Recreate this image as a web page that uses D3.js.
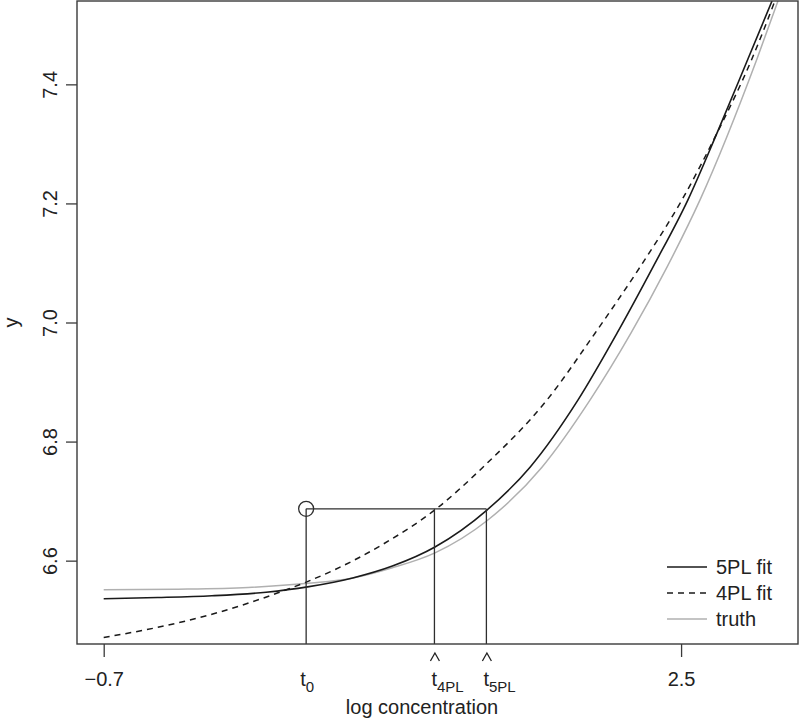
<!DOCTYPE html>
<html><head><meta charset="utf-8">
<script src="https://cdn.jsdelivr.net/npm/d3@7"></script>
<style>
body{margin:0;background:#fff}
svg{display:block}
text{font-family:"Liberation Sans",Arial,Helvetica,sans-serif;fill:#222}
</style>
</head><body>
<svg id="chart" width="800" height="720"></svg>
<script>
// ---- data ----
const fit5X = [-0.7, -0.4, -0.1, 0.2, 0.43, 0.68, 0.9, 1.136, 1.424, 1.663, 1.929, 2.145, 2.344, 2.538, 2.699, 2.871, 3.004];
const fit5Y = [6.536, 6.538, 6.541, 6.547, 6.556, 6.571, 6.591, 6.623, 6.685, 6.757, 6.870, 6.982, 7.093, 7.206, 7.318, 7.443, 7.540];

const fit4X = [-0.7, -0.4, -0.1, 0.266, 0.422, 0.582, 0.85, 1.147, 1.402, 1.757, 2.023, 2.272, 2.505, 2.699, 2.893, 3.02];
const fit4Y = [6.471, 6.488, 6.510, 6.546, 6.564, 6.585, 6.628, 6.688, 6.757, 6.870, 6.982, 7.093, 7.206, 7.318, 7.443, 7.540];

const truthX = [-0.7, -0.3, 0.1, 0.432, 0.682, 0.9, 1.136, 1.424, 1.729, 1.996, 2.222, 2.422, 2.605, 2.921, 3.037];
const truthY = [6.551, 6.552, 6.555, 6.562, 6.571, 6.588, 6.613, 6.667, 6.757, 6.870, 6.982, 7.093, 7.206, 7.443, 7.540];

const xTicks = [-0.7, 2.5];
const yTicks = [6.6, 6.8, 7.0, 7.2, 7.4];

const markNames = ["t0", "t4PL", "t5PL"];
const markX = [0.422, 1.133, 1.421];
const markSub = ["0", "4PL", "5PL"];
const markHat = [false, true, true];
const levelY = 6.687;

const legendLabels = ["5PL fit", "4PL fit", "truth"];

// ---- drawing ----
const svg = d3.select("#chart");
const L = 77, R = 798, T = 1, B = 644;
const x = d3.scaleLinear().domain([-0.848, 3.148]).range([L, R]);
const y = d3.scaleLinear().domain([6.46, 7.54]).range([B, T]);

svg.append("defs").append("clipPath").attr("id", "clip")
  .append("rect").attr("x", L).attr("y", T).attr("width", R - L).attr("height", B - T);

const axisColor = "#3a3a3a";

// y axis
const yAxis = svg.append("g").attr("transform", `translate(${L},0)`)
  .call(d3.axisLeft(y).tickValues(yTicks).tickSize(11).tickFormat(d3.format(".1f")));
yAxis.select(".domain").remove();
yAxis.selectAll(".tick line").attr("stroke", axisColor).attr("stroke-width", 1.3);
yAxis.selectAll(".tick text").remove();
yAxis.selectAll(".tick").append("text")
  .attr("transform", "translate(-20,0) rotate(-90)")
  .attr("text-anchor", "middle")
  .attr("font-size", 20)
  .text(d => d3.format(".1f")(d));

// x axis
const xAxis = svg.append("g").attr("transform", `translate(0,${B})`)
  .call(d3.axisBottom(x).tickValues(xTicks).tickSize(13).tickFormat(d => d3.format(".1f")(d).replace("-", "\u2212")));
xAxis.select(".domain").remove();
xAxis.selectAll(".tick line").attr("stroke", axisColor).attr("stroke-width", 1.3);
xAxis.selectAll(".tick text").attr("font-size", 20).attr("fill", "#222")
  .attr("font-family", '"Liberation Sans",Arial,sans-serif')
  .attr("dy", null).attr("y", 42);

// marker labels (t0, t-hat 4PL, t-hat 5PL)
markX.forEach((v, i) => {
  const px = x(v);
  const g = svg.append("g");
  const startX = px - (markHat[i] ? 3 : 6);
  const t = g.append("text").attr("x", startX).attr("y", B + 42).attr("font-size", 20);
  t.append("tspan").text("t");
  t.append("tspan").attr("dy", 6).attr("font-size", 15).text(markSub[i]);
  if (markHat[i]) {
    const hx = startX + 3.5;
    g.append("path")
      .attr("d", `M${hx - 4.5},${B + 17} L${hx},${B + 9} L${hx + 4.5},${B + 17}`)
      .attr("fill", "none").attr("stroke", "#222").attr("stroke-width", 1.3);
  }
});

// axis titles
svg.append("text").attr("x", 422).attr("y", B + 70).attr("text-anchor", "middle")
  .attr("font-size", 20).text("log concentration");
svg.append("text").attr("transform", `translate(18,${(T + B) / 2}) rotate(-90)`)
  .attr("text-anchor", "middle").attr("font-size", 20).text("y");

// curves
const line = d3.line().x(d => x(d[0])).y(d => y(d[1])).curve(d3.curveMonotoneX);
const plot = svg.append("g").attr("clip-path", "url(#clip)");
const toPts = (xs, ys) => xs.map((v, i) => [v, ys[i]]);

plot.append("path").datum(toPts(truthX, truthY)).attr("d", line)
  .attr("fill", "none").attr("stroke", "#b0b0b0").attr("stroke-width", 1.5);
plot.append("path").datum(toPts(fit4X, fit4Y)).attr("d", line)
  .attr("fill", "none").attr("stroke", "#1a1a1a").attr("stroke-width", 1.5).attr("stroke-dasharray", "6,5");
plot.append("path").datum(toPts(fit5X, fit5Y)).attr("d", line)
  .attr("fill", "none").attr("stroke", "#1a1a1a").attr("stroke-width", 1.6);

// reference segments
const segColor = "#2e2e2e";
markX.forEach(v => {
  plot.append("line").attr("x1", x(v)).attr("x2", x(v)).attr("y1", y(levelY)).attr("y2", B)
    .attr("stroke", segColor).attr("stroke-width", 1.3);
});
plot.append("line").attr("x1", x(markX[0])).attr("x2", x(markX[2])).attr("y1", y(levelY)).attr("y2", y(levelY))
  .attr("stroke", segColor).attr("stroke-width", 1.3);
plot.append("circle").attr("cx", x(markX[0])).attr("cy", y(levelY)).attr("r", 7.5)
  .attr("fill", "none").attr("stroke", segColor).attr("stroke-width", 1.3);

// frame
svg.append("rect").attr("x", L).attr("y", T).attr("width", R - L).attr("height", B - T)
  .attr("fill", "none").attr("stroke", axisColor).attr("stroke-width", 1.4);

// legend
const legendStyles = [
  {stroke: "#1a1a1a", dash: null},
  {stroke: "#1a1a1a", dash: "6,5"},
  {stroke: "#b0b0b0", dash: null}
];
const lg = svg.append("g");
legendLabels.forEach((lab, i) => {
  const yy = 567 + i * 26;
  lg.append("line").attr("x1", 667).attr("x2", 707).attr("y1", yy).attr("y2", yy)
    .attr("stroke", legendStyles[i].stroke).attr("stroke-width", 1.5)
    .attr("stroke-dasharray", legendStyles[i].dash);
  lg.append("text").attr("x", 716).attr("y", yy + 7).attr("font-size", 20).text(lab);
});
</script>
</body></html>
